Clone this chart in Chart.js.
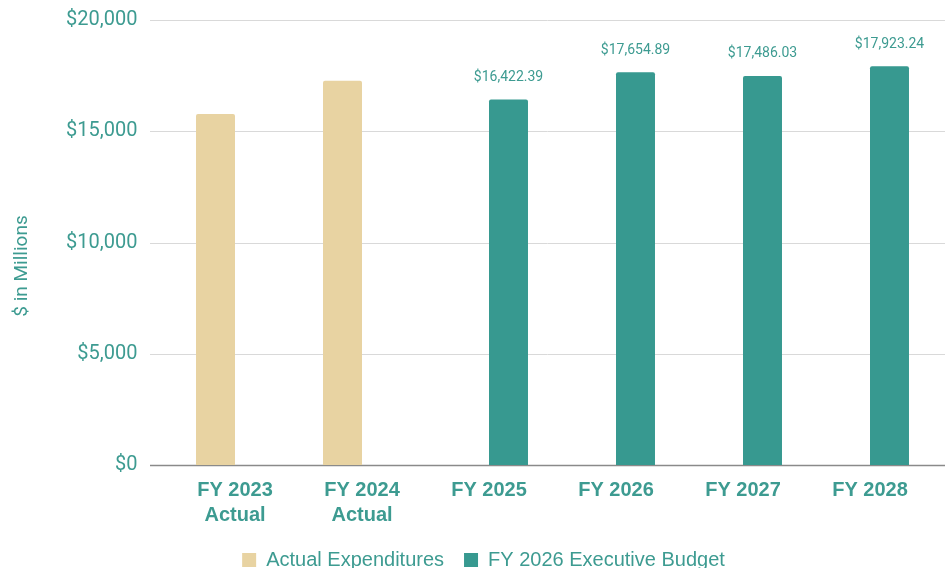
<!DOCTYPE html>
<html>
<head>
<meta charset="utf-8">
<script src="https://cdn.jsdelivr.net/npm/chart.js@4.4.1/dist/chart.umd.min.js"></script>
<style>
  html, body { margin: 0; padding: 0; background: #ffffff; }
  #wrap { width: 945px; height: 568px; position: relative; }
</style>
</head>
<body>
<div id="wrap"><canvas id="budgetChart" width="945" height="568"></canvas></div>
<script>
// categories and values (in $ millions)
const categories = [['FY 2023', 'Actual'], ['FY 2024', 'Actual'], 'FY 2025', 'FY 2026', 'FY 2027', 'FY 2028'];
const actualSpend = [15770, 17270, null, null, null, null];
const execBudget = [null, null, 16422.39, 17654.89, 17486.03, 17923.24];
const yTicks = [0, 5000, 10000, 15000, 20000];

const TEAL = '#379990';
const TAN = '#e8d3a2';
const TEXT = '#3d9b91';

const money = (v, d) => '$' + v.toLocaleString('en-US', { minimumFractionDigits: d, maximumFractionDigits: d });

// gridlines wider than the plot area, axis title and bar value labels
const extras = {
    id: 'extras',
    beforeDatasetsDraw(chart) {
        const ctx = chart.ctx;
        const y = chart.scales.y;
        ctx.save();
        yTicks.forEach(t => {
            const py = Math.round(y.getPixelForValue(t)) + 0.5;
            ctx.strokeStyle = t === 0 ? '#8a8a8a' : '#d9d9d9';
            ctx.lineWidth = t === 0 ? 1.5 : 1;
            ctx.beginPath();
            ctx.moveTo(150, py);
            ctx.lineTo(945, py);
            ctx.stroke();
        });
        // axis title
        ctx.translate(22, 266);
        ctx.rotate(-Math.PI / 2);
        ctx.fillStyle = TEXT;
        ctx.font = '19px Roboto';
        ctx.textAlign = 'center';
        ctx.textBaseline = 'middle';
        ctx.fillText('$ in Millions', 0, 0);
        ctx.restore();
    },
    afterDatasetsDraw(chart) {
        const ctx = chart.ctx;
        const meta = chart.getDatasetMeta(1);
        ctx.save();
        ctx.fillStyle = TEXT;
        ctx.font = '14px Roboto';
        ctx.textAlign = 'center';
        ctx.textBaseline = 'middle';
        meta.data.forEach((bar, i) => {
            const v = execBudget[i];
            if (v == null) return;
            ctx.fillText(money(v, 2), bar.x, bar.y - 22);
        });
        ctx.restore();
    }
};

new Chart(document.getElementById('budgetChart'), {
    type: 'bar',
    data: {
        labels: categories,
        datasets: [
            { label: 'Actual Expenditures', data: actualSpend, backgroundColor: TAN, borderRadius: 2, borderSkipped: 'bottom' },
            { label: 'FY 2026 Executive Budget', data: execBudget, backgroundColor: TEAL, borderRadius: 2, borderSkipped: 'bottom' }
        ]
    },
    options: {
        responsive: false,
        animation: false,
        layout: { padding: { top: 20, right: 11.5, left: 33.5, bottom: -12 } },
        datasets: { bar: { categoryPercentage: 0.614, barPercentage: 1.0 } },
        scales: {
            x: {
                grid: { display: false, drawTicks: false },
                border: { display: false },
                ticks: {
                    color: TEXT,
                    padding: 13,
                    maxRotation: 0,
                    font: { family: 'Liberation Sans, Arial', size: 20, weight: 'bold', lineHeight: 1.25 }
                },
                afterFit(scale) {
                    scale.height = 65;
                    scale.paddingLeft = 0; scale.paddingRight = 0;
                    scale.paddingTop = 0; scale.paddingBottom = 0;
                }
            },
            y: {
                min: 0,
                max: 20000,
                grid: { display: false, drawTicks: false },
                border: { display: false },
                afterBuildTicks(scale) { scale.ticks = yTicks.map(v => ({ value: v })); },
                ticks: {
                    color: TEXT,
                    padding: 34,
                    font: { family: 'Roboto', size: 20 },
                    callback: v => money(v, 0)
                },
                afterFit(scale) {
                    scale.width = 138;
                    scale.paddingTop = 0; scale.paddingBottom = 0;
                    scale.paddingLeft = 0; scale.paddingRight = 0;
                }
            }
        },
        plugins: {
            legend: {
                position: 'bottom',
                labels: {
                    color: TEXT,
                    boxWidth: 14,
                    boxHeight: 14,
                    padding: 20,
                    font: { family: 'Liberation Sans, Arial', size: 20 }
                }
            },
            tooltip: { enabled: false }
        }
    },
    plugins: [extras]
});
</script>
</body>
</html>
